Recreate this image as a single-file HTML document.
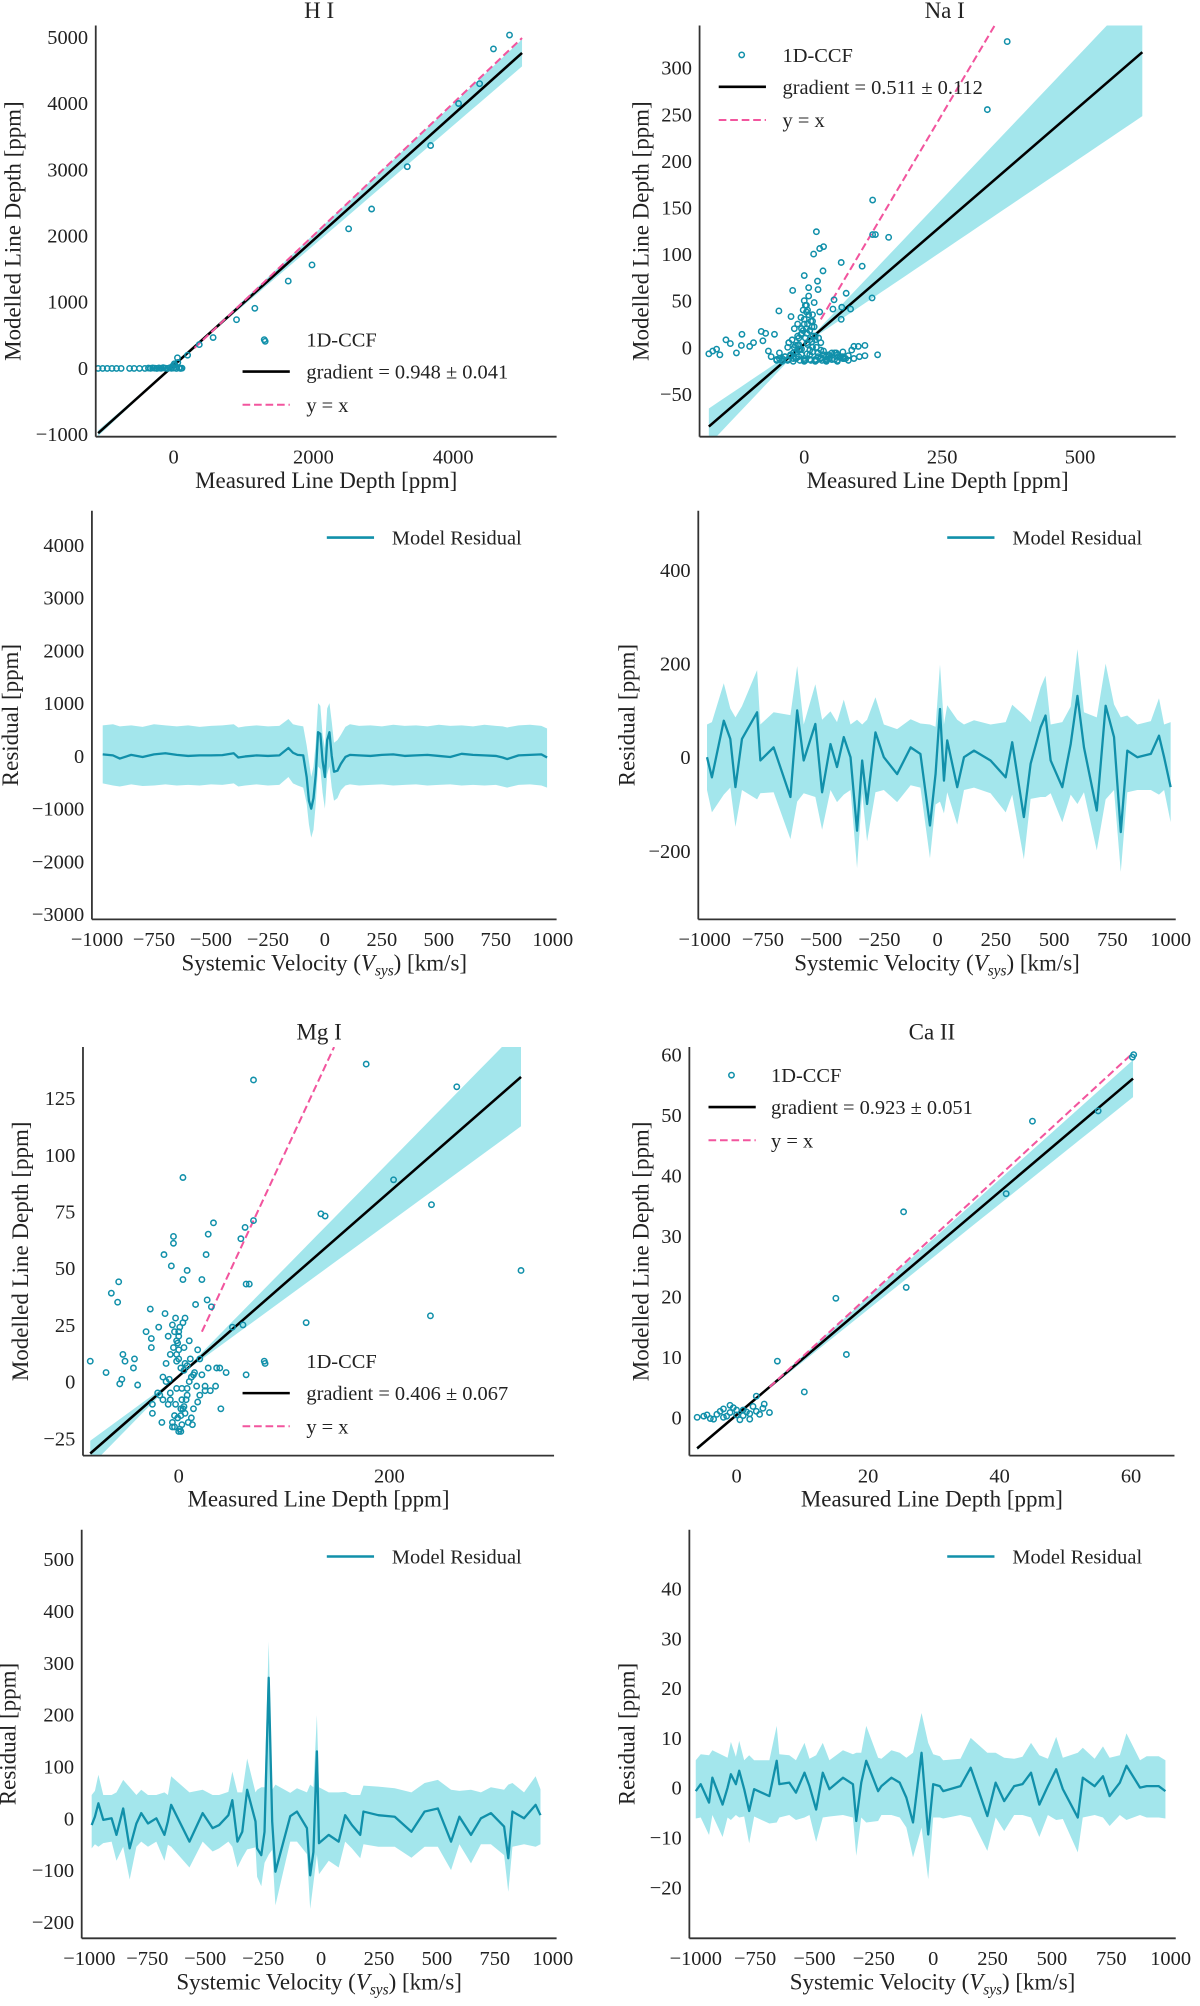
<!DOCTYPE html>
<html><head><meta charset="utf-8"><style>
html,body{margin:0;padding:0;background:#fff}
svg{display:block;font-family:"Liberation Serif",serif}
</style></head><body>
<svg id="fig" width="1200" height="2006" viewBox="0 0 940 1571" preserveAspectRatio="none" xmlns="http://www.w3.org/2000/svg"></svg>
<script>
// ---------- DATA ----------
// H I scatter
const hiX=[-1080,-1015,-950,-882,-817,-751,-630,-565,-488,-411,-360,-330,-300,-270,-240,-210,-180,-150,-120,-90,-60,-30,0,20,40,60,80,100,120,-20,10,55,200,367,565,900,1162,1310,1640,1980,2504,2833,3343,3677,4077,4378,4576,4806];
const hiY=[-10,-10,-10,-10,-10,-10,-10,-10,-10,-10,-5,-8,-3,-6,-10,-4,-8,0,-6,-10,-3,-8,-5,40,-10,80,-2,-10,-6,20,60,150,190,350,457,726,899,400,1310,1554,2100,2400,3040,3360,3995,4295,4820,5030];
const hiFit=[0.948,34,0.041]; // gradient, intercept, gradient error
// Na I scatter
const naX=[368,332,124,22,124,129,153,17,28,35,67,105,34,0,24,-21,25,8,123,76,54,-46,-24,28,52,68,84,67,15,-173,-166,-159,-153,-142,-134,-123,-113,-114,-99,-92,-78,-70,-75,-54,-65,90,98,110,100,110,133,-40,-35,-30,-25,-20,-15,-10,-5,0,5,10,15,20,25,30,35,40,45,50,55,60,65,70,75,80,-10,-5,0,5,10,15,20,-8,2,12,22,32,42,-60,-50,-45,-28,-18,-2,6,14,30,44,58,72,86,-12,4,18];
const naY=[328,255,158,124,121,121,118,100,106,108,91,87,82,77,71,61,62,64,53,58,51,39,33,38,41,43,41,30,35,-7,-4,-2,-8,8,4,-6,14,2,1,5,17,15,7,14,-4,1,1,2,-10,-9,-8,-12,-10,-14,-8,-12,-5,-10,-2,-12,5,-8,0,-13,-6,-12,-4,-10,-12,-6,-13,-8,-11,-5,-12,-9,10,20,25,15,8,28,12,-14,-14,-14,-14,-14,-13,-10,-14,-6,5,0,18,40,22,-3,-8,-6,-12,-3,2,45,48];
const naX2=[-50,-45,-40,-35,-30,-25,-20,-15,-10,-5,0,5,10,15,20,25,30,35,40,45,50,55,60,65,70,-28,-22,-16,-12,-8,-4,2,6,10,14,18,22,26,30,-18,-12,-6,0,4,8,12,16,20,-2,2,6,-6,0,4,8,-30,-10,10,30,50,70,90,-40,-20,0,20,40,60,80];
const naY2=[-13,-12,-14,-10,-13,-9,-6,-12,-3,-8,-14,-7,-13,-5,-14,-10,-12,-8,-14,-9,-13,-6,-14,-10,-12,5,8,2,12,-2,15,10,3,18,6,22,0,10,5,20,25,14,30,20,35,28,12,8,40,45,25,32,50,38,55,0,3,-3,-11,-13,-10,-12,-15,-15,-15,-15,-15,-15,-14];
const naFit=[0.511,3.4,0.112];
// Mg I scatter
const mgX=[178,71,264,4,204,240,135,139,33,63,71,28,59,-5,-5,26,-14,-7,8,325,-57,-64,-58,4,22,64,67,27,16,31,-27,-13,239,121,51,61,82,64,-84,-69,-53,-51,-42,-43,-54,-56,-26,-31,-19,-26,-39,-25,-16,2,13,36,45,39,-10,-5,0,5,10,-8,-3,2,7,12,17,-12,-2,4,9,14,20,-6,0,6,-4,3,8,-15,-9,-1,11,18,25,-2,1,5];
const mgY=[140,133,130,90,89,78,74,73,70,68,71,65,63,64,61,56,56,51,49,49,44,39,35,45,45,43,43,36,34,33,32,30,29,26,24,25,8,3,9,4,12,9,10,6,1,-1,19,22,24,15,-1.5,-14,-18,-22,-19,6,4,6,20,15,10,5,0,-5,-10,-15,-8,2,-2,8,12,-12,-18,3,-6,25,22,28,-20,-3,7,-8,1,-16,10,14,-4,18,-21,-11];
const mgX2=[-20,-15,-10,-8,-6,-4,-2,0,2,4,6,8,10,12,15,18,20,25,28,-12,-6,0,6,12,-3,3,0,-1,1,2,-4,5,-2,3,8,-8,14,22,30,-25,-18,40,35];
const mgY2=[-5,2,-10,12,-18,22,-3,14,-12,26,8,-6,18,-16,4,-9,10,-2,6,0,-20,20,-14,2,28,-8,-22,17,24,6,-15,15,9,-19,-3,-8,-12,3,-4,-10,-6,-12,-2];
const mgFit=[0.406,2.4,0.067];
// Ca II scatter
const caX=[60.2,60.4,55,45,41,25.4,25.8,15.1,16.7,6.2,10.3,-6,-5,-4,-3,-2,-1,0,1,2,3,4,5,-4.5,-3.5,-2.5,-1.5,-0.5,0.5,1.5,2.5,3.5,-1,0,1,2,-2,4.2,3];
const caY=[59.6,60,50.7,49,37,34,21.5,19.7,10.4,9.3,4.2,0,0.2,-0.2,0.5,0,0.8,1.2,0.3,0.6,1,1.5,0.8,0.4,-0.3,1,0.2,1.6,-0.4,0.9,1.8,0.5,2,0.4,1.2,-0.3,1.4,2.2,3.5];
const caFit=[0.923,0.4,0.051];

// H I residual
const hrV=[-975,-930,-900,-850,-800,-750,-700,-650,-600,-550,-500,-450,-400,-380,-350,-300,-250,-200,-160,-140,-120,-95,-80,-70,-60,-50,-40,-30,-20,-10,0,10,20,30,40,55,70,90,110,150,200,250,300,350,400,450,500,550,600,650,700,750,780,800,850,900,950,975];
const hrR=[30,10,-50,20,-20,30,50,20,0,10,10,15,50,-30,-10,10,0,10,150,60,20,10,-400,-850,-1000,-800,-350,450,420,-100,-400,300,450,0,-300,-280,-150,-20,20,10,0,20,30,0,10,20,0,-20,40,20,10,0,-30,-60,10,20,30,-30];
const hrLo=[-520,-560,-580,-540,-570,-560,-540,-560,-550,-560,-540,-550,-520,-580,-560,-540,-560,-550,-400,-520,-560,-600,-900,-1300,-1550,-1400,-900,-200,-250,-700,-1000,-350,-200,-600,-850,-800,-650,-560,-540,-560,-550,-540,-560,-550,-540,-560,-550,-540,-560,-550,-560,-550,-580,-600,-550,-540,-560,-600];
const hrHi=[580,600,560,580,550,600,580,560,580,550,570,580,600,540,560,580,560,570,700,600,580,560,200,-100,-400,-200,250,1000,950,400,150,900,1000,650,250,300,400,550,600,570,580,560,590,570,580,560,590,570,580,560,590,570,560,540,580,590,570,520];
// Na I residual
const nrV=[-990,-969,-918,-890,-868,-840,-775,-761,-704,-632,-603,-575,-525,-496,-460,-432,-403,-374,-346,-324,-303,-267,-231,-174,-116,-74,-33,-9,10,27,41,84,113,156,227,292,320,370,399,442,463,485,535,571,600,628,683,721,757,786,814,857,915,950,972,1000];
const nrR=[0,-43,78,39,-64,39,96,-7,21,-85,100,-7,71,-75,28,-21,43,0,-157,-7,-100,53,0,-36,21,7,-146,-36,103,-50,36,-64,0,14,-7,-43,32,-128,-14,64,89,-7,-64,28,131,21,-114,110,43,-160,14,0,7,46,0,-64];
const nrE=[70,75,80,65,85,70,90,70,75,90,95,70,85,80,70,75,80,70,80,70,80,75,70,60,60,65,70,65,95,70,75,80,70,65,70,75,80,90,75,85,85,70,75,80,100,75,85,90,70,85,75,70,70,80,70,75];
// Mg I residual
const mrV=[-990,-976,-961,-940,-904,-883,-854,-826,-797,-776,-747,-711,-676,-661,-647,-568,-511,-468,-440,-400,-383,-361,-340,-319,-283,-276,-258,-244,-226,-211,-197,-133,-104,-61,-47,-33,-18,-9,33,76,104,133,169,183,247,318,390,447,504,561,597,647,690,733,790,808,826,876,926,947];
const mrR=[-13,3,29,-3,0,-32,19,-58,-10,10,-10,0,-32,-6,26,-45,10,-19,-13,6,35,-45,-26,55,-6,-58,-71,-26,271,-6,-103,4,13,-19,-110,-65,129,-48,-32,-45,6,-13,-32,13,6,3,-26,13,19,-45,3,-32,0,10,-16,-77,13,0,26,6];
const mrE=[45,50,55,45,45,50,55,60,45,45,45,45,50,45,55,50,45,45,45,45,55,50,50,60,50,55,60,60,70,55,65,45,45,50,65,60,70,60,50,50,45,45,45,50,55,55,50,55,55,55,50,55,50,50,55,65,55,50,55,50];
// Ca II residual
const crV=[-1000,-979,-944,-930,-887,-866,-852,-831,-817,-796,-775,-754,-690,-659,-648,-606,-578,-542,-521,-493,-465,-437,-380,-338,-324,-303,-282,-232,-218,-176,-141,-113,-85,-49,-21,0,28,42,115,158,228,263,299,341,376,412,447,483,518,546,609,630,680,715,743,786,814,871,899,950,978];
const crR=[-0.7,0.7,-3,2,-3.4,0,2.7,0.7,3.4,-0.3,-4.7,-0.3,-1.7,5.4,0.7,1,-1,3,0.3,-4.4,3,-0.3,2,0.7,-6.7,1,5.4,-0.7,0.3,2,1,-2,-7,7,-9.4,0.7,0.3,-0.7,0.3,4,-5.7,1,-2.7,0.3,0.7,3,-3.4,0.3,3.7,-0.3,-6,2,0.3,2.3,-1.7,1,4.4,0,0.3,0.3,-0.7];
const crE=[5.5,6,6.5,5.5,6.5,6,6.5,5.5,6,5.5,6.5,5.5,5.5,7,6,5.5,5.5,6,5.5,6.5,6,5.5,5.5,6,7,6,7,6,5.5,5.5,6,6,7,8,9,6,6,5.5,5.5,6,7,6,6,5.5,5.5,6,6.5,5.5,6.5,6,7,6,5.5,6,6,5.5,6.5,5.5,6,6,5.5];

// tick labels
const p1XT=[0,2000,4000], p1YT=[-1000,0,1000,2000,3000,4000,5000];
const p2XT=[0,250,500], p2YT=[-50,0,50,100,150,200,250,300];
const p3YT=[-3000,-2000,-1000,0,1000,2000,3000,4000];
const p4YT=[-200,0,200,400];
const p5XT=[0,200], p5YT=[-25,0,25,50,75,100,125];
const p6XT=[0,20,40,60], p6YT=[0,10,20,30,40,50,60];
const p7YT=[-200,-100,0,100,200,300,400,500];
const p8YT=[-20,-10,0,10,20,30,40];
const velT=[-1000,-750,-500,-250,0,250,500,750,1000];

// ---------- DRAW ----------
const NS="http://www.w3.org/2000/svg";
const svg=document.getElementById('fig');
const TEAL="#1190aa", BAND="#a3e6ec", PINK="#f2559e", AX="#333";
function el(tag,attrs,parent){const e=document.createElementNS(NS,tag);for(const k in attrs)e.setAttribute(k,attrs[k]);(parent||svg).appendChild(e);return e;}
function txt(s,x,y,size,anchor,parent,rot){const t=el('text',{x:x,y:y,'font-size':size,'text-anchor':anchor||'middle',fill:'#222'},parent);if(rot)t.setAttribute('transform','rotate(-90 '+x+' '+y+')');t.textContent=s;return t;}
function lab(n){return n<0?'\u2212'+(-n):String(n);}
function scale(d0,d1,p0,p1){return v=>p0+(v-d0)*(p1-p0)/(d1-d0);}

function axes(g,P,xt,yt,xlabel,ylabel,ylabX,title,titleX){
  el('line',{x1:P.l,y1:P.t,x2:P.l,y2:P.b,stroke:AX,'stroke-width':1.4},g);
  el('line',{x1:P.l,y1:P.b,x2:P.r,y2:P.b,stroke:AX,'stroke-width':1.4},g);
  xt.forEach(v=>{const t=txt(lab(v),P.sx(v),P.b+21,16,'middle',g);});
  yt.forEach(v=>{const t=txt(lab(v),P.l-6,P.sy(v)+5.5,16,'end',g);});
  const xl=typeof xlabel==='string'?txt(xlabel,(P.l+P.r)/2,P.b+40,18,'middle',g):xlabel(g);
  
  const yl=txt(ylabel,ylabX,(P.t+P.b)/2,18,'middle',g,true);
  
  if(title){const tt=txt(title,titleX,P.t-6,18,'middle',g);}
}
function velLabel(P){return g=>{const t=el('text',{x:(P.l+P.r)/2,y:P.b+40,'font-size':18,'text-anchor':'middle',fill:'#222'},g);
  t.innerHTML='Systemic Velocity (<tspan font-style="italic">V</tspan><tspan font-style="italic" font-size="12" dy="4">sys</tspan><tspan dy="-4">) [km/s]</tspan>';return t;};}

function scatterPanel(name,P,X,Y,fit,yxStart,xt,yt,ylabX,title,titleX,leg){
  const g=el('g',{});
  const clip=el('clipPath',{id:name+'clip'},g);el('rect',{x:P.l,y:P.t,width:P.r-P.l,height:P.b-P.t},clip);
  const pg=el('g',{'clip-path':'url(#'+name+'clip)'},g);
  const [m,b,dm]=fit;const x0=Math.min(...X),x1=P.xr;
  const f=(x,s)=>b+s*x;
  let pts=[];const N=40;
  for(let i=0;i<=N;i++){const x=x0+(x1-x0)*i/N;pts.push([P.sx(x),P.sy(Math.max(f(x,m+dm),f(x,m-dm)))]);}
  for(let i=N;i>=0;i--){const x=x0+(x1-x0)*i/N;pts.push([P.sx(x),P.sy(Math.min(f(x,m+dm),f(x,m-dm)))]);}
  const band=el('polygon',{points:pts.map(p=>p.join(',')).join(' '),fill:BAND},pg);
  
  const fl=el('line',{x1:P.sx(x0),y1:P.sy(f(x0,m)),x2:P.sx(x1),y2:P.sy(f(x1,m)),stroke:'#000','stroke-width':2},pg);
  
  const yxEnd=Math.min(P.xr,P.yt);
  const yl=el('line',{x1:P.sx(yxStart),y1:P.sy(yxStart),x2:P.sx(yxEnd),y2:P.sy(yxEnd),stroke:PINK,'stroke-width':1.6,'stroke-dasharray':'6,3'},pg);
  
  X.forEach((x,i)=>{const c=el('circle',{cx:P.sx(x),cy:P.sy(Y[i]),r:2.1,fill:'none',stroke:TEAL,'stroke-width':1.2},pg);
    });
  axes(g,P,xt,yt,'Measured Line Depth [ppm]','Modelled Line Depth [ppm]',ylabX,title,titleX);
  const lg=el('g',{},g);
  const c=el('circle',{cx:leg.mx,cy:leg.y,r:2.1,fill:'none',stroke:TEAL,'stroke-width':1.2},lg);
  
  const t1=txt('1D-CCF',leg.tx,leg.y+5.5,16,'start',lg);
  const l2=el('line',{x1:leg.lx,y1:leg.y+25,x2:leg.lx+37,y2:leg.y+25,stroke:'#000','stroke-width':2},lg);
  
  const t2=txt('gradient = '+m.toFixed(3)+' \u00b1 '+dm.toFixed(3),leg.tx,leg.y+30.5,16,'start',lg);
  const l3=el('line',{x1:leg.lx,y1:leg.y+51,x2:leg.lx+37,y2:leg.y+51,stroke:PINK,'stroke-width':1.6,'stroke-dasharray':'6,3'},lg);
  
  const t3=txt('y = x',leg.tx,leg.y+56.5,16,'start',lg);
}

function residPanel(name,P,V,R,lo,hi,yt,ylabX,legX){
  const g=el('g',{});
  let pts=V.map((v,i)=>[P.sx(v),P.sy(hi[i])]);
  for(let i=V.length-1;i>=0;i--)pts.push([P.sx(V[i]),P.sy(lo[i])]);
  const band=el('polygon',{points:pts.map(p=>p.join(',')).join(' '),fill:BAND},g);
  
  const line=el('polyline',{points:V.map((v,i)=>P.sx(v)+','+P.sy(R[i])).join(' '),fill:'none',stroke:TEAL,'stroke-width':1.8,'stroke-linejoin':'round'},g);
  
  axes(g,P,velT,yt,velLabel(P),'Residual [ppm]',ylabX,null,0);
  const lg=el('g',{},g);
  const l=el('line',{x1:legX,y1:P.t+21,x2:legX+37,y2:P.t+21,stroke:TEAL,'stroke-width':2},lg);
  
  const t=txt('Model Residual',legX+51,P.t+26.5,16,'start',lg);
}
function mk(l,r,t,b,xd0,xd1,xp0,xp1,yd0,yd1,yp0,yp1){
  const sx=scale(xd0,xd1,xp0,xp1),sy=scale(yd0,yd1,yp0,yp1);
  const inv=(p,d0,d1,p0,p1)=>d0+(p-p0)*(d1-d0)/(p1-p0);
  return {l,r,t,b,sx,sy,xr:inv(r-12,xd0,xd1,xp0,xp1),yt:inv(t,yd0,yd1,yp0,yp1)};
}
// block-style band: spans both the line and zero, widened by the error
const bandLo=(R,E)=>R.map((r,i)=>Math.min(r,0)-E[i]);
const bandHi=(R,E)=>R.map((r,i)=>Math.max(r,0)+E[i]);

const P1=mk(75,436,20,342, 0,4000,136,355, 0,5000,288,29);
P1.xr=4985;
scatterPanel('h-i',P1,hiX,hiY,hiFit,300,p1XT,p1YT,16,'H I',250,{mx:207,lx:190,tx:240,y:266});
const P2=mk(548,921,20,342, 0,500,630,846, 0,300,272,53);
P2.xr=613;
scatterPanel('na-i',P2,naX.concat(naX2),naY.concat(naY2),naFit,30,p2XT,p2YT,508,'Na I',740,{mx:581,lx:563,tx:613,y:43});
const P5=mk(65,434,820,1140, 0,200,140,305, 0,125,1082,860);
P5.xr=325;
scatterPanel('mg-i',P5,mgX.concat(mgX2),mgY.concat(mgY2),mgFit,22,p5XT,p5YT,22,'Mg I',250,{mx:207,lx:190,tx:240,y:1066});
const P6=mk(540,920,820,1140, 0,20,577,680, 0,60,1110,826);
P6.xr=60.3;
scatterPanel('ca-ii',P6,caX,caY,caFit,5,p6XT,p6YT,508,'Ca II',730,{mx:573,lx:555,tx:604,y:842});

const P3=mk(72,436,400,720, -1000,1000,76,433, 0,1000,592,550.7);
residPanel('h-i',P3,hrV,hrR,hrLo,hrHi,p3YT,14,256);
const P4=mk(547,921,400,720, -1000,1000,552,917, 0,200,593,519.7);
residPanel('na-i',P4,nrV,nrR,bandLo(nrR,nrE),bandHi(nrR,nrE),p4YT,497,742);
const P7=mk(64,436,1198,1518, -1000,1000,70,433, 0,100,1424,1383.4);
residPanel('mg-i',P7,mrV,mrR,bandLo(mrR,mrE),bandHi(mrR,mrE),p7YT,12,256);
const P8=mk(540,921,1198,1518, -1000,1000,545,917, 0,10,1400,1361);
residPanel('ca-ii',P8,crV,crR,bandLo(crR,crE),bandHi(crR,crE),p8YT,497,742);
</script>
</body></html>
